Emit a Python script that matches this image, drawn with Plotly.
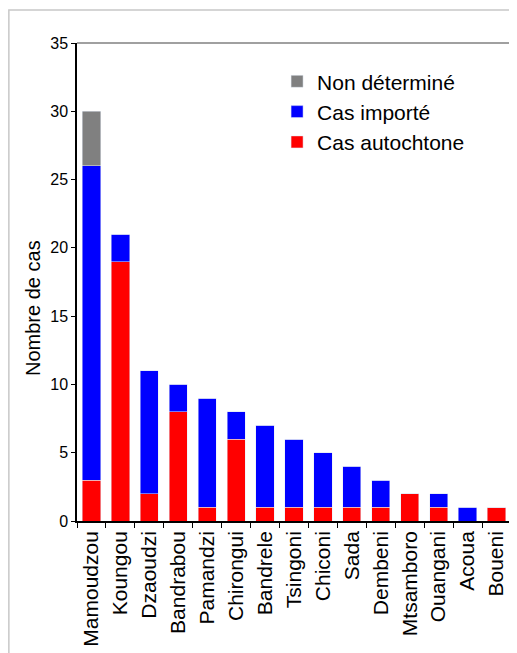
import plotly.graph_objects as go

communes = ["Mamoudzou", "Koungou", "Dzaoudzi", "Bandrabou", "Pamandzi", "Chirongui",
            "Bandrele", "Tsingoni", "Chiconi", "Sada", "Dembeni", "Mtsamboro",
            "Ouangani", "Acoua", "Boueni"]
autochtone = [3, 19, 2, 8, 1, 6, 1, 1, 1, 1, 1, 2, 1, 0, 1]
importe = [23, 2, 9, 2, 8, 2, 6, 5, 4, 3, 2, 0, 1, 1, 0]
non_determine = [4, 0, 0, 0, 0, 0, 0, 0, 0, 0, 0, 0, 0, 0, 0]
y_ticks = [0, 5, 10, 15, 20, 25, 30, 35]

FONT = "Liberation Sans, Arial, sans-serif"

fig = go.Figure()
fig.add_trace(go.Bar(x=communes, y=autochtone, name="Cas autochtone",
                     marker_color="#ff0000", legendgroup="a"))
fig.add_trace(go.Bar(x=communes, y=importe, name="Cas importé",
                     marker_color="#0000ff", legendgroup="b"))
fig.add_trace(go.Bar(x=communes, y=non_determine, name="Non déterminé",
                     marker_color="#808080", legendgroup="c"))

fig.update_layout(
    barmode="stack",
    bargap=0.37,
    width=509, height=645,
    margin=dict(l=69, r=6, t=35, b=132, autoexpand=False),
    paper_bgcolor="white", plot_bgcolor="white",
    font=dict(family=FONT, color="black"),
    legend=dict(x=0.461, y=0.962, xanchor="left", yanchor="top",
                traceorder="reversed", tracegroupgap=3,
                font=dict(size=21, family=FONT), bgcolor="rgba(0,0,0,0)"),
    xaxis=dict(tickangle=-90, tickfont=dict(size=21), ticks="outside",
               tickson="boundaries", ticklen=5, tickcolor="black",
               showline=True, linecolor="black", linewidth=1.5,
               showgrid=False, automargin=False),
    yaxis=dict(range=[0, 35], tickvals=y_ticks, tickfont=dict(size=16),
               ticks="outside", ticklen=4, tickcolor="black",
               showline=True, linecolor="black", linewidth=1.5,
               showgrid=False, zeroline=False, automargin=False),
    annotations=[
        dict(text="Nombre de cas", xref="paper", yref="paper",
             x=-0.101, y=0.446, textangle=-90, showarrow=False,
             xanchor="center", yanchor="middle",
             font=dict(size=20, family=FONT, color="black")),
    ],
    shapes=[
        dict(type="line", xref="paper", yref="paper", x0=0, x1=1, y0=1, y1=1,
             line=dict(color="#808080", width=1.5)),
        dict(type="line", xref="paper", yref="paper", x0=1, x1=1, y0=0, y1=1,
             line=dict(color="#808080", width=2)),
        dict(type="rect", xref="paper", yref="paper", x0=-0.157, x1=1.005,
             y0=-0.30, y1=1.069, line=dict(color="#c8c8c8", width=1.5),
             layer="below"),
    ],
)

fig.write_html("out.html")
